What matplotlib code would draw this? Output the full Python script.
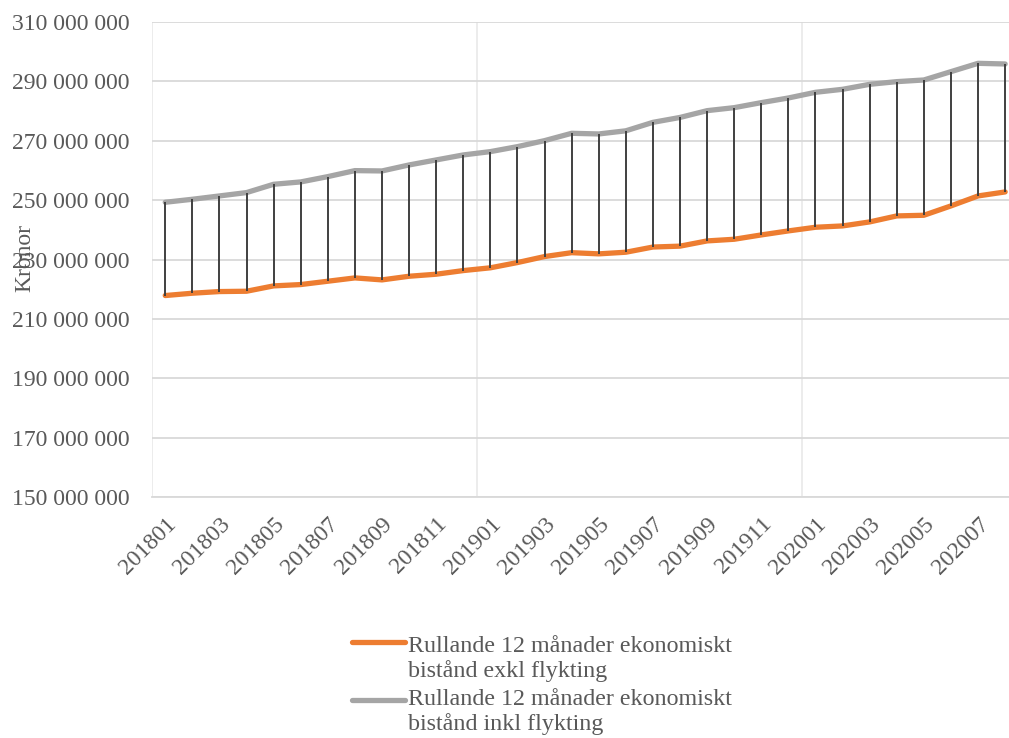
import matplotlib
matplotlib.use("Agg")
import matplotlib.pyplot as plt
from matplotlib.lines import Line2D

plt.rcParams['font.family'] = ['Liberation Serif', 'DejaVu Serif']

# months on the category axis
months = ["201801", "201802", "201803", "201804", "201805", "201806",
          "201807", "201808", "201809", "201810", "201811", "201812",
          "201901", "201902", "201903", "201904", "201905", "201906",
          "201907", "201908", "201909", "201910", "201911", "201912",
          "202001", "202002", "202003", "202004", "202005", "202006",
          "202007", "202008"]

# rolling 12 months, kronor
exkl = [217860000, 218640000, 219200000, 219310000, 221110000, 221560000,
        222680000, 223800000, 223130000, 224360000, 225040000, 226270000,
        227200000, 228970000, 230990000, 232300000, 231900000, 232450000,
        234200000, 234500000, 236260000, 236820000, 238280000, 239630000,
        240860000, 241310000, 242660000, 244680000, 244900000, 248050000,
        251410000, 252760000]
inkl = [249280000, 250290000, 251410000, 252540000, 255340000, 256130000,
        257920000, 259940000, 259830000, 261850000, 263540000, 265220000,
        266340000, 268020000, 270040000, 272510000, 272290000, 273350000,
        276200000, 277850000, 280140000, 281150000, 282840000, 284410000,
        286320000, 287330000, 289010000, 289910000, 290470000, 293280000,
        296080000, 295860000]

label_exkl = ["Rullande 12 månader ekonomiskt", "bistånd exkl flykting"]
label_inkl = ["Rullande 12 månader ekonomiskt", "bistånd inkl flykting"]

orange = "#ED7D31"
grey = "#A5A5A5"
txt = "#595959"
grid = "#D9D9D9"

W, H = 1009, 738
fig = plt.figure(figsize=(W / 100, H / 100), dpi=100)
ax = fig.add_axes([151.7 / W, 241 / H, 867 / W, 475 / H])

x = list(range(len(months)))
ax.plot(x, exkl, color=orange, lw=3.8, solid_capstyle='round', zorder=2)
ax.plot(x, inkl, color=grey, lw=3.8, solid_capstyle='round', zorder=2)
ax.vlines(x, exkl, inkl, color="#404040", lw=1.4, zorder=3)

ax.set_xlim(-0.5, len(months) - 0.5)
ax.set_ylim(150000000, 310000000)
yt = list(range(150000000, 310000001, 20000000))
ax.set_yticks(yt)
ax.set_yticklabels([f"{v:,}".replace(",", " ") for v in yt])
ax.set_xticks(x[::2])
ax.set_xticklabels(months[::2], rotation=45, ha='right', va='top',
                   rotation_mode='anchor')
ax.tick_params(axis='both', length=0, labelsize=17, colors=txt)
ax.tick_params(axis='y', pad=16)
ax.tick_params(axis='x', pad=12)

ax.grid(axis='y', color=grid, lw=1.3, zorder=0)
for b in [-0.5, 11.5, 23.5]:
    ax.axvline(b, color="#EBEBEB", lw=1.3, zorder=0)
for s in ['top', 'right', 'left']:
    ax.spines[s].set_visible(False)
ax.spines['bottom'].set_color(grid)
ax.spines['bottom'].set_linewidth(1.3)

fig.text(25 / W, 1 - 258 / H, "Kronor", rotation=90, ha='center',
         va='center', fontsize=17, color=txt)

# legend drawn by hand so the key sits on the first line of each label
for yk, yb, col, lab in [(642, 652, orange, label_exkl),
                         (700, 705, grey, label_inkl)]:
    fig.add_artist(Line2D([352 / W, 405 / W], [1 - yk / H, 1 - yk / H],
                          color=col, lw=3.8, solid_capstyle='round'))
    for i, line in enumerate(lab):
        fig.text(408 / W, 1 - (yb + 25 * i) / H, line, ha='left',
                 va='baseline', fontsize=17.3, color=txt)

fig.savefig("out.png", dpi=100)
